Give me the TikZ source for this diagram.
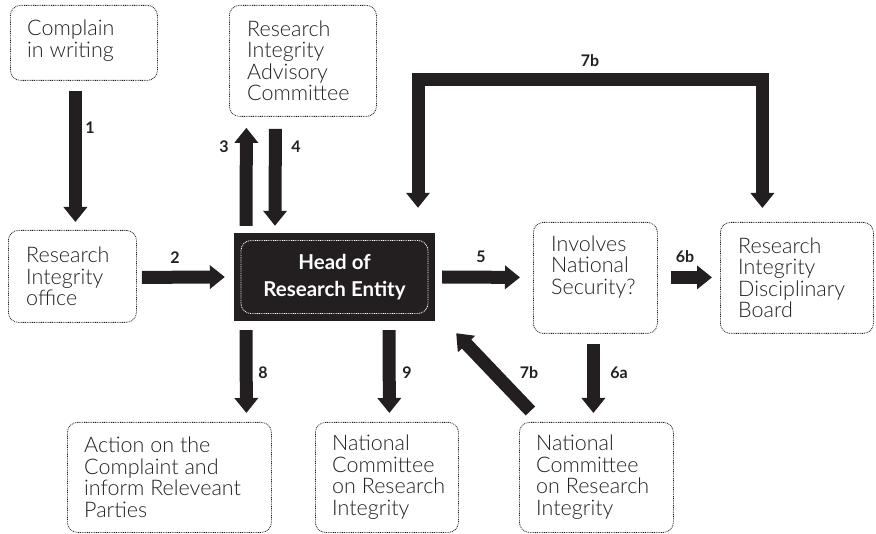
\documentclass[tikz,border=0pt]{standalone}
\usepackage{fontspec}
\setmainfont{Lato}[UprightFont={* Light}, BoldFont={* Bold}]
\usetikzlibrary{arrows.meta}
\definecolor{ink}{HTML}{231F20}
\tikzset{
  box/.style={draw=ink, dash pattern=on 0.9pt off 0.9pt, line width=0.8pt, rounded corners=10pt, inner sep=0pt, anchor=north west},
  btext/.style={anchor=west, align=left, inner sep=0pt, text=ink, font=\fontsize{21.5}{21.5}\selectfont},
  flow/.style={line width=13pt, draw=ink, -{Triangle[width=23pt,length=15pt]}},
  dflow/.style={line width=13pt, draw=ink, line join=miter, {Triangle[width=23pt,length=15pt]}-{Triangle[width=23pt,length=15pt]}},
  num/.style={inner sep=0pt, text=ink, font=\fontsize{16}{16}\selectfont\bfseries}
}
\begin{document}
\begin{tikzpicture}[x=1pt,y=-1pt]
\useasboundingbox (0,0) rectangle (876,534);

% boxes
\node[box, minimum width=147pt, minimum height=75pt] (cw) at (10,5) {};
\node[btext] (cwt) at ([xshift=17pt,yshift=2pt]cw.west) {Complain\\in writing};

\node[box, minimum width=147pt, minimum height=111pt] (riac) at (229,5) {};
\node[btext] (riact) at ([xshift=18pt]riac.west) {Research\\Integrity\\Advisory\\Committee};

\node[box, minimum width=128pt, minimum height=92pt] (rio) at (8,230) {};
\node[btext] (riot) at ([xshift=18pt]rio.west) {Research\\Integrity\\office};

\node[box, minimum width=124pt, minimum height=111pt] (ins) at (533,222) {};
\node[btext] (inst) at ([xshift=18pt,yshift=11pt]ins.west) {Involves\\National\\Security?};

\node[box, minimum width=153pt, minimum height=111pt] (ridb) at (720,222) {};
\node[btext] (ridbt) at ([xshift=18pt]ridb.west) {Research\\Integrity\\Disciplinary\\Board};

\node[box, minimum width=204pt, minimum height=110pt] (act) at (67,422) {};
\node[btext] (actt) at ([xshift=17pt]act.west) {Action on the\\Complaint and\\inform Releveant\\Parties};

\node[box, minimum width=143pt, minimum height=110pt] (nc1) at (315,422) {};
\node[btext] (nc1t) at ([xshift=17pt]nc1.west) {National\\Committee\\on Research\\Integrity};

\node[box, minimum width=154pt, minimum height=110pt] (nc2) at (519,422) {};
\node[btext] (nc2t) at ([xshift=17pt]nc2.west) {National\\Committee\\on Research\\Integrity};

% head
\node[fill=ink, inner sep=0pt, minimum width=201pt, minimum height=88pt] (head) at (334.5,277) {};
\node[draw=white, dash pattern=on 0.9pt off 0.9pt, line width=0.8pt, rounded corners=10pt, inner sep=0pt,
      minimum width=187pt, minimum height=73pt, align=center, text=white,
      font=\fontsize{20.5}{27}\selectfont\bfseries] (headin) at (head.center) {Head of\\Research Entity};

% arrows
\draw[flow] ([shift={(-8.5,10)}]cw.south) -- ([shift={(3,-8)}]rio.north);
\draw[flow] ([shift={(5,1)}]rio.east) -- ([shift={(-9,0)}]head.west);
\draw[flow] ([shift={(-88.5,-7)}]head.north) -- ([shift={(-56.5,11)}]riac.south);
\draw[flow] ([shift={(-27.5,12)}]riac.south) -- ([shift={(-59.5,-7)}]head.north);
\draw[flow] ([shift={(7,0)}]head.east) -- ([shift={(-13,-0.5)}]ins.west);
\draw[flow] ([shift={(13,-0.5)}]ins.east) -- ([shift={(-8,-0.5)}]ridb.west);
\draw[dflow] ([shift={(83.5,-25)}]head.north) -- ++(0,-128) -| ([shift={(-34.5,-14)}]ridb.north);
\draw[flow] ([shift={(-88.5,9)}]head.south) -- ([shift={(77,-9)}]act.north);
\draw[flow] ([shift={(54.5,9)}]head.south) -- ([shift={(2.5,-9)}]nc1.north);
\draw[flow] ([shift={(-66,-11)}]nc2.north) -- ([shift={(21,12)}]head.south east);
\draw[flow] ([shift={(-2,10)}]ins.south) -- ([shift={(-3,-9)}]nc2.north);

% labels
\node[num] (n1) at (90,128) {1};
\node[num] (n2) at (175,258) {2};
\node[num] (n3) at (224,147) {3};
\node[num] (n4) at (296,147) {4};
\node[num] (n5) at (481,257) {5};
\node[num] (n6b) at (685,257) {6b};
\node[num] (n7t) at (590,61) {7b};
\node[num] (n8) at (263,373) {8};
\node[num] (n9) at (407,373) {9};
\node[num] (n7d) at (529,373) {7b};
\node[num] (n6a) at (619,373) {6a};
\end{tikzpicture}
\end{document}
